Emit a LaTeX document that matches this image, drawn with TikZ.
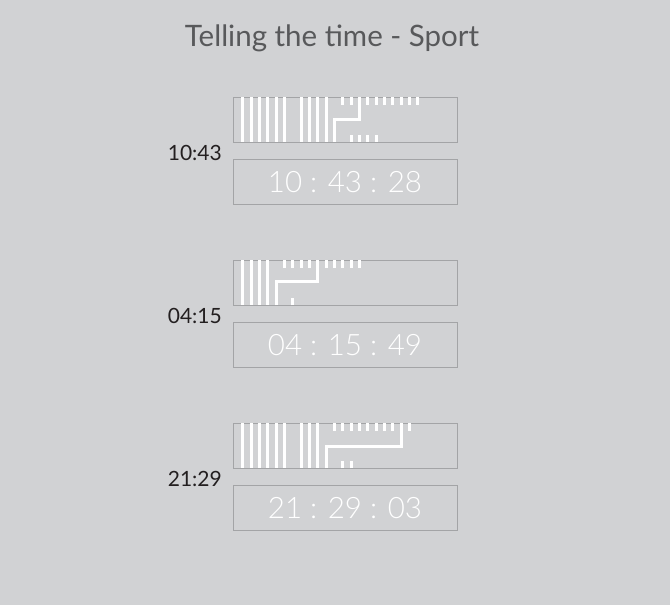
\documentclass[tikz,border=0pt]{standalone}
\usepackage{xcolor}
\usepackage{fontspec}
\usepackage{tikz}
\usetikzlibrary{positioning}
\setmainfont{Lato}
\newfontfamily\thinfont{Lato Light}

\definecolor{bgcol}{HTML}{D1D2D4}
\definecolor{framecol}{HTML}{A3A4A6}
\definecolor{titlecol}{HTML}{58595B}
\definecolor{labelcol}{HTML}{231F20}

\tikzset{
    barbox/.style={rectangle, draw=framecol, line width=0.9pt, minimum width=224pt, minimum height=44.5pt, inner sep=0pt},
    digibox/.style={barbox, text=white, font=\thinfont\fontsize{29.5}{29.5}\selectfont},
    timelabel/.style={anchor=east, text=labelcol, inner sep=0pt, font=\fontsize{21}{21}\selectfont},
    bar/.style={white, line width=2.8pt},
    hand/.style={bar, line join=miter}
}

\begin{document}
\begin{tikzpicture}[x=1pt, y=1pt, node distance=16.5pt]
    \fill[bgcol] (0,0) rectangle (670,-605);
    \useasboundingbox (0,0) rectangle (670,-605);

    \node[text=titlecol, font=\fontsize{29.5}{29.5}\selectfont] (title) at (332,-38) {Telling the time - Sport};

    % 10:43
    \node[barbox] (bars1) at (345,-119.8) {};
    \node[digibox, below=of bars1] (digi1) {10 : 43 : 28};
    \node[timelabel] (lab1) at (222,-152.5) {10:43};
    \begin{scope}[shift={(bars1.north west)}]
        \foreach \k in {0,...,5,7,8,9,10} \draw[bar] (10.3+8.33*\k,0) -- ++(0,-45);
        \foreach \k in {12,13,15,16,...,21} \draw[bar] (10.3+8.33*\k,0) -- ++(0,-7.5);
        \foreach \k in {13,...,16} \draw[bar] (10.3+8.33*\k,-45) -- ++(0,7.5);
        \draw[hand] (10.3+8.33*11,-45) |- (10.3+8.33*14,-22.5) -- (10.3+8.33*14,0);
    \end{scope}

    % 04:15
    \node[barbox] (bars2) at (345,-283) {};
    \node[digibox, below=of bars2] (digi2) {04 : 15 : 49};
    \node[timelabel] (lab2) at (222,-315.5) {04:15};
    \begin{scope}[shift={(bars2.north west)}]
        \foreach \k in {0,...,3} \draw[bar] (10.3+8.33*\k,0) -- ++(0,-45);
        \foreach \k in {5,...,8,10,11,...,14} \draw[bar] (10.3+8.33*\k,0) -- ++(0,-7.5);
        \foreach \k in {6} \draw[bar] (10.3+8.33*\k,-45) -- ++(0,7.5);
        \draw[hand] (10.3+8.33*4,-45) |- (10.3+8.33*9,-21) -- (10.3+8.33*9,0);
    \end{scope}

    % 21:29
    \node[barbox] (bars3) at (345,-446) {};
    \node[digibox, below=of bars3] (digi3) {21 : 29 : 03};
    \node[timelabel] (lab3) at (222,-478.5) {21:29};
    \begin{scope}[shift={(bars3.north west)}]
        \foreach \k in {0,...,5,7,8,9} \draw[bar] (10.3+8.33*\k,0) -- ++(0,-45);
        \foreach \k in {11,...,18,20} \draw[bar] (10.3+8.33*\k,0) -- ++(0,-7.5);
        \foreach \k in {12,13} \draw[bar] (10.3+8.33*\k,-45) -- ++(0,7.5);
        \draw[hand] (10.3+8.33*10,-45) |- (10.3+8.33*19,-23) -- (10.3+8.33*19,0);
    \end{scope}
\end{tikzpicture}
\end{document}
